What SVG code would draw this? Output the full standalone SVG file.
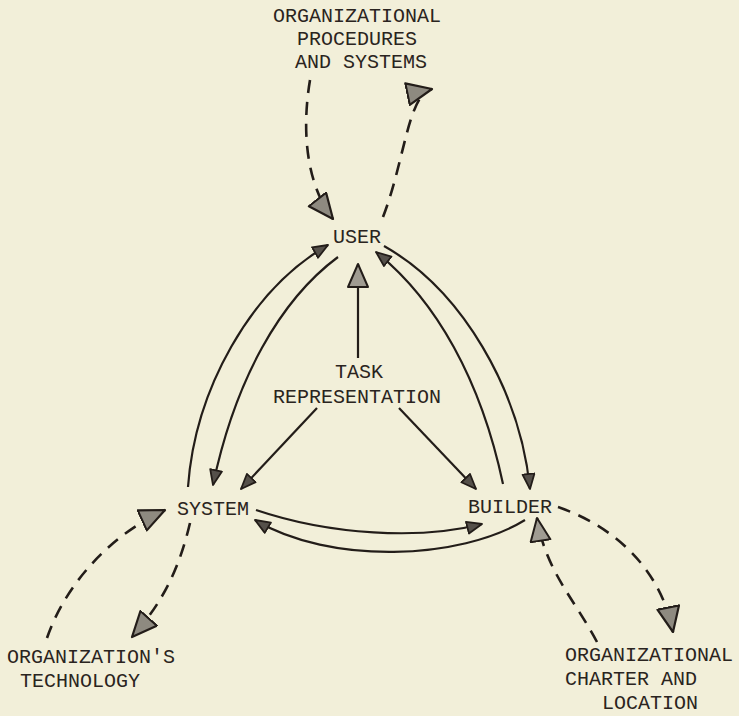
<svg xmlns="http://www.w3.org/2000/svg" width="739" height="716" viewBox="0 0 739 716">
<style>
  text { font-family: "Liberation Mono", "Courier New", monospace; font-size: 20px; fill: #2a2420; }
  .solid { fill: none; stroke: #231d19; stroke-width: 2.2; }
  .dash { fill: none; stroke: #231d19; stroke-width: 2.6; stroke-dasharray: 13 9; }
</style>
<defs>
  <marker id="ahL" markerUnits="userSpaceOnUse" markerWidth="30" markerHeight="28" refX="26" refY="12" orient="auto">
    <path d="M1,1 L26,12 L1,23 z" fill="#8e8a80" stroke="#231d19" stroke-width="2.2" stroke-dasharray="none" stroke-linejoin="round"/>
  </marker>
  <marker id="ahM" markerUnits="userSpaceOnUse" markerWidth="28" markerHeight="26" refX="24" refY="11" orient="auto">
    <path d="M1,1 L24,11 L1,21 z" fill="#a09c92" stroke="#231d19" stroke-width="2" stroke-dasharray="none" stroke-linejoin="round"/>
  </marker>
  <marker id="ahS" markerUnits="userSpaceOnUse" markerWidth="20" markerHeight="18" refX="16" refY="7" orient="auto">
    <path d="M1,1 L16,7 L1,13 z" fill="#55504a" stroke="#231d19" stroke-width="1.8" stroke-dasharray="none" stroke-linejoin="round"/>
  </marker>
</defs>
<rect x="0" y="0" width="739" height="716" fill="#f2efd9"/>

<g id="connectors">
  <path class="dash" d="M310,80 C300,140 310,190 333,219" marker-end="url(#ahL)"/>
  <path class="dash" d="M383,217 C405,160 408,94 432,89" marker-end="url(#ahL)"/>
  <path class="solid" d="M188,487 C195,390 250,290 328,245" marker-end="url(#ahS)"/>
  <path class="solid" d="M338,257 C280,300 235,380 213,485" marker-end="url(#ahS)"/>
  <path class="solid" d="M503,484 C481,380 436,300 376,252" marker-end="url(#ahS)"/>
  <path class="solid" d="M384,246 C462,290 520,390 530,489" marker-end="url(#ahS)"/>
  <path class="solid" d="M358,358 L358,264" marker-end="url(#ahM)"/>
  <path class="solid" d="M317,408 L241,489" marker-end="url(#ahS)"/>
  <path class="solid" d="M399,408 L476,489" marker-end="url(#ahS)"/>
  <path class="solid" d="M256,510 C330,535 420,540 482,524" marker-end="url(#ahS)"/>
  <path class="solid" d="M525,520 C460,560 330,565 255,520" marker-end="url(#ahS)"/>
  <path class="dash" d="M47,638 C65,585 110,535 165,510" marker-end="url(#ahL)"/>
  <path class="dash" d="M190,523 C180,565 165,600 132,637" marker-end="url(#ahL)"/>
  <path class="dash" d="M558,507 C610,525 660,565 673,632" marker-end="url(#ahL)"/>
  <path class="dash" d="M597,642 C575,600 545,570 537,518" marker-end="url(#ahM)"/>
</g>

<g id="node-procedures">
  <text x="273" y="22">ORGANIZATIONAL</text>
  <text x="297" y="45">PROCEDURES</text>
  <text x="295" y="68">AND SYSTEMS</text>
</g>
<g id="node-user">
  <text x="333" y="243">USER</text>
</g>
<g id="node-task">
  <text x="335" y="378">TASK</text>
  <text x="273" y="403">REPRESENTATION</text>
</g>
<g id="node-system">
  <text x="177" y="515">SYSTEM</text>
</g>
<g id="node-builder">
  <text x="468" y="513">BUILDER</text>
</g>
<g id="node-technology">
  <text x="7" y="663">ORGANIZATION'S</text>
  <text x="20" y="687">TECHNOLOGY</text>
</g>
<g id="node-charter">
  <text x="565" y="661">ORGANIZATIONAL</text>
  <text x="565" y="685">CHARTER AND</text>
  <text x="602" y="709">LOCATION</text>
</g>
</svg>
